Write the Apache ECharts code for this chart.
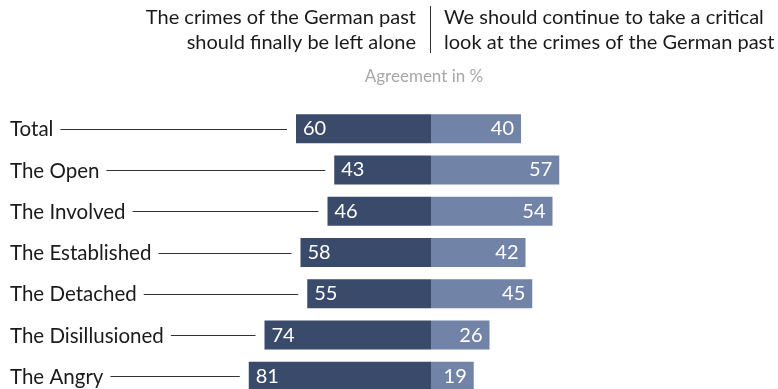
<!DOCTYPE html>
<html>
<head>
<meta charset="utf-8">
<script src="https://cdn.jsdelivr.net/npm/echarts@6/dist/echarts.min.js"></script>
<style>
  html, body { margin: 0; padding: 0; background: #fff; }
  #chart { width: 778px; height: 389px; }
</style>
</head>
<body>
<div id="chart"></div>
<script>
// Segments and their shares (%)
const categories = ['Total', 'The Open', 'The Involved', 'The Established', 'The Detached', 'The Disillusioned', 'The Angry'];
const leaveAlone = [60, 43, 46, 58, 55, 74, 81];      // "should finally be left alone"
const criticalLook = [40, 57, 54, 42, 45, 26, 19];    // "continue to take a critical look"

const headerLeft = ['The crimes of the German past', 'should finally be left alone'];
const headerRight = ['We should continue to take a critical', 'look at the crimes of the German past'];
const subtitle = 'Agreement in %';

const FONT = 'Lato, "Noto Sans", sans-serif';
const DARK = '#3a4a6b';
const LIGHT = '#7283a8';
const LABEL_SIZE = 20.5;
const VALUE_SIZE = 20;
const HEAD_SIZE = 20;

const measureCtx = document.createElement('canvas').getContext('2d');
function textWidth(str, size) {
  measureCtx.font = size + 'px ' + FONT;
  return measureCtx.measureText(str).width;
}

function headerLine(text, x, y, align) {
  return {
    type: 'text', x: x, y: y,
    style: { text: text, font: HEAD_SIZE + 'px ' + FONT, fill: '#1a1a1a', align: align, verticalAlign: 'middle' }
  };
}

const chart = echarts.init(document.getElementById('chart'), null, { renderer: 'canvas' });

const option = {
  animation: false,
  grid: { left: 206, width: 450, top: 108, height: 289, outerBoundsMode: 'none' },
  xAxis: {
    type: 'value', min: -100, max: 100, show: false
  },
  yAxis: {
    type: 'category', data: categories, inverse: true, show: false
  },
  graphic: [
    headerLine(headerLeft[0], 416, 18, 'right'),
    headerLine(headerLeft[1], 416, 43, 'right'),
    {
      type: 'line', shape: { x1: 430.5, y1: 6, x2: 430.5, y2: 53 },
      style: { stroke: '#333', lineWidth: 1 }
    },
    headerLine(headerRight[0], 444, 18, 'left'),
    headerLine(headerRight[1], 444, 43, 'left'),
    {
      type: 'text', x: 424, y: 77,
      style: { text: subtitle, font: '17px ' + FONT, fill: '#a8a8a8', align: 'center', verticalAlign: 'middle' }
    }
  ],
  series: [
    {
      // Category names with a leader line running to the start of each bar
      type: 'custom',
      data: leaveAlone.map((v, i) => [i, v]),
      renderItem: function (params, api) {
        const i = api.value(0);
        const v = api.value(1);
        const p = api.coord([-v, i]);
        const name = categories[i];
        const tw = textWidth(name, LABEL_SIZE);
        const ly = Math.round(p[1]) + 0.5;
        return {
          type: 'group',
          children: [
            {
              type: 'text',
              style: { text: name, x: 10, y: p[1] + 1, font: LABEL_SIZE + 'px ' + FONT, fill: '#1a1a1a', verticalAlign: 'middle', align: 'left' }
            },
            {
              type: 'line',
              shape: { x1: 10 + tw + 7, y1: ly, x2: p[0] - 9, y2: ly },
              style: { stroke: '#333', lineWidth: 1 }
            }
          ]
        };
      },
      z: 1
    },
    {
      type: 'bar',
      stack: 'share',
      data: leaveAlone.map(v => -v),
      barWidth: 29,
      itemStyle: { color: DARK },
      label: {
        show: true, position: 'insideLeft', distance: 7,
        formatter: p => Math.abs(p.value),
        color: '#fff', fontFamily: FONT, fontSize: VALUE_SIZE
      }
    },
    {
      type: 'bar',
      stack: 'share',
      data: criticalLook,
      barWidth: 29,
      itemStyle: { color: LIGHT },
      label: {
        show: true, position: 'insideRight', distance: 7,
        color: '#fff', fontFamily: FONT, fontSize: VALUE_SIZE
      }
    }
  ]
};

chart.setOption(option);
</script>
</body>
</html>
